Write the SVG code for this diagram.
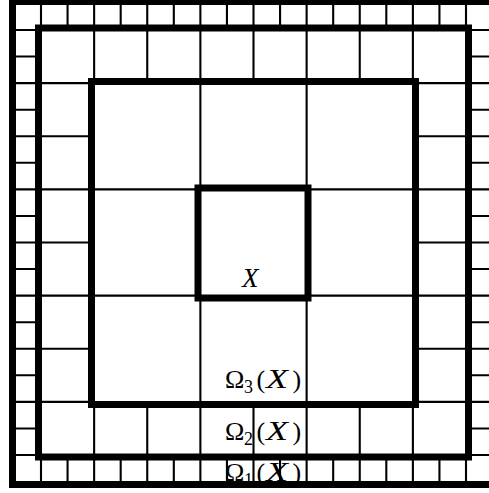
<svg xmlns="http://www.w3.org/2000/svg" width="489" height="493" viewBox="0 0 489 493">
<style>
.thin{fill:none;stroke:#000;stroke-width:2.1}
.thick{fill:none;stroke:#000;stroke-width:7;stroke-linejoin:miter;stroke-linecap:square}
.lbl{font-family:"Liberation Serif","Times New Roman",serif;font-size:26px;fill:#000}
.it{font-style:italic;font-size:27px}
.sub{font-size:18px}
</style>
<rect width="489" height="493" fill="#fff"/>
<g id="labels">
<text class="lbl it" x="242" y="287">X</text>
<text class="lbl" y="388"><tspan x="225">Ω</tspan><tspan class="sub" x="244" y="393">3</tspan><tspan x="256.5" y="388">(</tspan><tspan class="it" x="266" textLength="22" lengthAdjust="spacingAndGlyphs">X</tspan><tspan x="292.5">)</tspan></text>
<text class="lbl" y="440"><tspan x="225">Ω</tspan><tspan class="sub" x="244" y="445">2</tspan><tspan x="256.5" y="440">(</tspan><tspan class="it" x="266" textLength="22" lengthAdjust="spacingAndGlyphs">X</tspan><tspan x="292.5">)</tspan></text>
<text class="lbl" y="481"><tspan x="225">Ω</tspan><tspan class="sub" x="244" y="486">1</tspan><tspan x="256.5" y="481">(</tspan><tspan class="it" x="266" textLength="22" lengthAdjust="spacingAndGlyphs">X</tspan><tspan x="292.5">)</tspan></text>
</g>
<g id="grid-fine" class="thin">
<path d="M41,1.5V28 M67.56,1.5V28 M94.13,1.5V28 M120.69,1.5V28 M147.25,1.5V28 M173.81,1.5V28 M200.38,1.5V28 M226.94,1.5V28 M253.5,1.5V28 M280.06,1.5V28 M306.63,1.5V28 M333.19,1.5V28 M359.75,1.5V28 M386.31,1.5V28 M412.88,1.5V28 M439.44,1.5V28 M466,1.5V28"/>
<path d="M41,457V484.5 M67.56,457V484.5 M94.13,457V484.5 M120.69,457V484.5 M147.25,457V484.5 M173.81,457V484.5 M200.38,457V484.5 M226.94,457V484.5 M253.5,457V484.5 M280.06,457V484.5 M306.63,457V484.5 M333.19,457V484.5 M359.75,457V484.5 M386.31,457V484.5 M412.88,457V484.5 M439.44,457V484.5 M466,457V484.5"/>
<path d="M12.5,30H38.5 M12.5,56.56H38.5 M12.5,83.13H38.5 M12.5,109.69H38.5 M12.5,136.25H38.5 M12.5,162.81H38.5 M12.5,189.38H38.5 M12.5,215.94H38.5 M12.5,242.5H38.5 M12.5,269.06H38.5 M12.5,295.63H38.5 M12.5,322.19H38.5 M12.5,348.75H38.5 M12.5,375.31H38.5 M12.5,401.88H38.5 M12.5,428.44H38.5 M12.5,455H38.5"/>
<path d="M468.5,30H495 M468.5,56.56H495 M468.5,83.13H495 M468.5,109.69H495 M468.5,136.25H495 M468.5,162.81H495 M468.5,189.38H495 M468.5,215.94H495 M468.5,242.5H495 M468.5,269.06H495 M468.5,295.63H495 M468.5,322.19H495 M468.5,348.75H495 M468.5,375.31H495 M468.5,401.88H495 M468.5,428.44H495 M468.5,455H495"/>
</g>
<g id="grid-medium" class="thin">
<path d="M94.13,28V81.5 M147.25,28V81.5 M200.38,28V81.5 M253.5,28V81.5 M306.63,28V81.5 M359.75,28V81.5 M412.88,28V81.5"/>
<path d="M94.13,404.5V457 M147.25,404.5V457 M200.38,404.5V457 M253.5,404.5V457 M306.63,404.5V457 M359.75,404.5V457 M412.88,404.5V457"/>
<path d="M38.5,83.13H91.5 M38.5,136.25H91.5 M38.5,189.38H91.5 M38.5,242.5H91.5 M38.5,295.63H91.5 M38.5,348.75H91.5 M38.5,401.88H91.5"/>
<path d="M415.5,83.13H468.5 M415.5,136.25H468.5 M415.5,189.38H468.5 M415.5,242.5H468.5 M415.5,295.63H468.5 M415.5,348.75H468.5 M415.5,401.88H468.5"/>
</g>
<g id="grid-coarse" class="thin">
<path d="M200.38,81.5V188 M306.63,81.5V188 M200.38,298V404.5 M306.63,298V404.5 M91.5,189.38H198 M308,189.38H415.5 M91.5,295.63H198 M308,295.63H415.5"/>
</g>
<g id="regions" class="thick">
<rect id="omega1" x="12.5" y="1.5" width="482.5" height="483"/>
<rect id="omega2" x="38.5" y="28" width="430" height="429"/>
<rect id="omega3" x="91.5" y="81.5" width="324" height="323"/>
<rect id="X" x="198" y="188" width="110" height="110"/>
</g>
</svg>
